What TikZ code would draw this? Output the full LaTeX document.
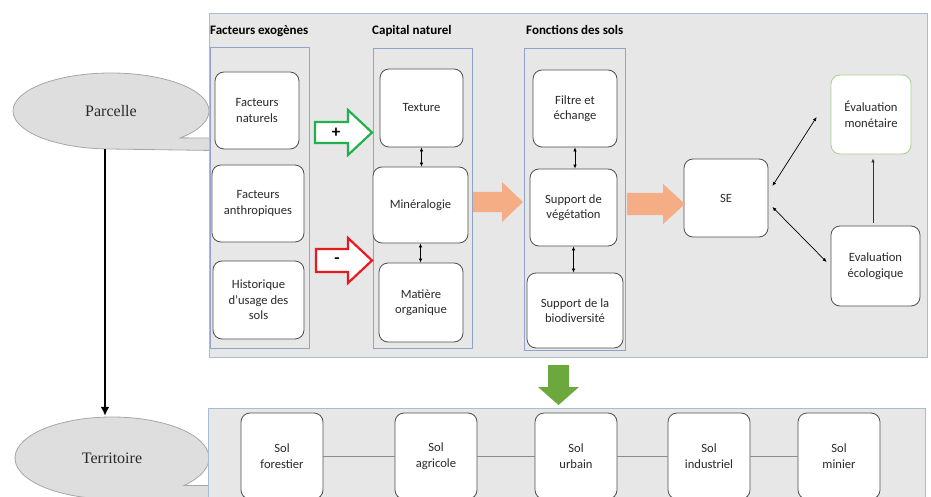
\documentclass[tikz,border=0pt]{standalone}
\usepackage{fontspec}
\setmainfont{Carlito}
\newfontfamily\serifft{Liberation Serif}
\usetikzlibrary{arrows.meta,shapes.geometric}
\definecolor{panelfill}{HTML}{E7E7E7}
\definecolor{panelline}{HTML}{A9BCD2}
\definecolor{colline}{HTML}{8EA5C8}
\definecolor{boxline}{HTML}{4F4F4F}
\definecolor{txt}{HTML}{2A2A2A}
\definecolor{ellfill}{HTML}{DEDEDE}
\definecolor{ellline}{HTML}{A6A6A6}
\definecolor{orangearr}{HTML}{F4AD85}
\definecolor{greenarr}{HTML}{22B04B}
\definecolor{redarr}{HTML}{E8191F}
\definecolor{greendown}{HTML}{6CA83E}
\definecolor{greenline}{HTML}{A9D08E}
\definecolor{rowline}{HTML}{8C8C8C}
\begin{document}
\begin{tikzpicture}[x=1pt,y=-1pt,
  panel/.style={draw=panelline, fill=panelfill, line width=0.9pt, inner sep=0pt},
  colbox/.style={draw=colline, fill=panelfill, line width=0.9pt, inner sep=0pt},
  box/.style={draw=boxline, fill=white, rounded corners=9pt, line width=0.8pt, align=center, text=txt, font=\fontsize{12.6}{15.5}\selectfont, inner sep=2pt},
  hdr/.style={anchor=west, font=\bfseries\fontsize{13}{15}\selectfont, text=black, inner sep=0pt},
  dbl/.style={{Latex[length=4pt,width=3.5pt]}-{Latex[length=4pt,width=3.5pt]}, line width=0.7pt, draw=black},
  sgl/.style={-{Latex[length=4pt,width=3.5pt]}, line width=0.7pt, draw=black!80},
  calloutfill/.style={fill=ellfill, draw=ellline, line width=0.8pt},
  elltext/.style={ellipse, inner sep=0pt, text=txt, font=\serifft\fontsize{16}{18}\selectfont},
  rowconn/.style={draw=rowline, line width=1pt},
  sign/.style={font=\bfseries\fontsize{17}{17}\selectfont, inner sep=0pt, text=black}
]
\useasboundingbox (0,0) rectangle (931,497);
\clip (0,0) rectangle (931,497);

% callouts
\coordinate (pc) at (111,111);
\filldraw[calloutfill] (pc) ++(45:98 and 38) arc[start angle=45, end angle=-268, x radius=98, y radius=38] -- (214,150.5) -- (214,138) -- cycle;
\node[elltext, minimum width=196pt, minimum height=76pt] (parcelle) at (pc) {Parcelle};

\coordinate (tc) at (112,458);
\filldraw[calloutfill] (tc) ++(42:97 and 41) arc[start angle=42, end angle=-268, x radius=97, y radius=41] -- (214,499) -- (214,485.4) -- cycle;
\node[elltext, minimum width=194pt, minimum height=82pt] (territoire) at (tc) {Territoire};

\draw[line width=2.4pt, -{Latex[length=9pt,width=9pt]}] ([xshift=-6pt]parcelle.south) -- ([xshift=-7pt,yshift=1pt]territoire.north);

% panels
\node[panel, minimum width=718pt, minimum height=344pt] (toppanel) at (568,185) {};
\node[panel, minimum width=717pt, minimum height=102pt] (botpanel) at (566.5,459) {};

% columns
\node[colbox, minimum width=99pt, minimum height=301pt] (colA) at (259.5,197.5) {};
\node[colbox, minimum width=99pt, minimum height=300pt] (colB) at (422.5,198) {};
\node[colbox, minimum width=101pt, minimum height=302pt] (colC) at (574.5,199) {};

\node[hdr] (hA) at (210,31) {Facteurs exogènes};
\node[hdr] (hB) at (372,31) {Capital naturel};
\node[hdr] (hC) at (526,30) {Fonctions des sols};

% column 1
\node[box, minimum width=84pt, minimum height=77pt] (fn) at (257,110.5) {Facteurs\\naturels};
\node[box, minimum width=92pt, minimum height=77pt] (fa) at (258,203.5) {Facteurs\\anthropiques};
\node[box, minimum width=91pt, minimum height=78pt] (hu) at (258.5,300) {Historique\\d’usage des\\sols};

% column 2
\node[box, minimum width=83pt, minimum height=78pt] (tex) at (421.5,108) {Texture};
\node[box, minimum width=95pt, minimum height=76pt] (min) at (420.5,205) {Minéralogie};
\node[box, minimum width=84pt, minimum height=79pt] (mo) at (421,302.5) {Matière\\organique};
\draw[dbl] (tex.south) -- (tex.south |- min.north);
\draw[dbl] (min.south) -- (min.south |- mo.north);

% column 3
\node[box, minimum width=84pt, minimum height=77pt] (fe) at (575,108.5) {Filtre et\\échange};
\node[box, minimum width=87pt, minimum height=77pt] (sv) at (573.5,207.5) {Support de\\végétation};
\node[box, minimum width=96pt, minimum height=75pt] (sb) at (575,310.5) {Support de la\\biodiversité};
\draw[dbl] (fe.south) -- (fe.south |- sv.north);
\draw[dbl] (sv.south) -- (sv.south |- sb.north);

% right part
\node[box, minimum width=84pt, minimum height=78pt] (se) at (726,198) {SE};
\node[box, draw=greenline, minimum width=80pt, minimum height=79pt] (em) at (871,114.5) {Évaluation\\monétaire};
\node[box, minimum width=89pt, minimum height=80pt] (ee) at (875.5,266) {Evaluation\\écologique};
\draw[dbl] ([xshift=4pt,yshift=12pt]se.east) -- ([xshift=-14pt,yshift=-2.5pt]em.west);
\draw[dbl] ([xshift=4pt,yshift=-9pt]se.east) -- ([xshift=-4pt,yshift=4pt]ee.west);
\draw[sgl] ([xshift=-2.5pt,yshift=3pt]ee.north) -- ([xshift=2pt,yshift=-4pt]em.south);

% hollow arrows
\draw[draw=greenarr, fill=white, line width=2.2pt, line join=miter] (315,122) -- (348,122) -- (348,110) -- (372,132.5) -- (348,155) -- (348,143) -- (315,143) -- cycle;
\node[sign] (plus) at (336,133) {+};
\draw[draw=redarr, fill=white, line width=2.2pt, line join=miter] (316,249) -- (348,249) -- (348,238) -- (372,260.5) -- (348,283) -- (348,272) -- (316,272) -- cycle;
\node[sign] (minus) at (337,261) {-};

% orange arrows
\fill[orangearr] (473,192) -- (502,192) -- (502,182) -- (523,202) -- (502,222) -- (502,212) -- (473,212) -- cycle;
\fill[orangearr] (627,193) -- (663,193) -- (663,184) -- (685,204) -- (663,224) -- (663,215) -- (627,215) -- cycle;

% green down arrow
\fill[greendown] (548,365) -- (569,365) -- (569,387) -- (579,387) -- (558.5,405) -- (538,387) -- (548,387) -- cycle;

% bottom row
\node[box, minimum width=82pt, minimum height=86pt] (sf) at (282,456) {Sol\\forestier};
\node[box, minimum width=82pt, minimum height=86pt] (sa) at (436,456) {Sol\\agricole};
\node[box, minimum width=82pt, minimum height=86pt] (su) at (576,456) {Sol\\urbain};
\node[box, minimum width=82pt, minimum height=86pt] (si) at (709,456) {Sol\\industriel};
\node[box, minimum width=82pt, minimum height=86pt] (sm) at (839,456) {Sol\\minier};
\draw[rowconn] (sf) -- (sa);
\draw[rowconn] (sa) -- (su);
\draw[rowconn] (su) -- (si);
\draw[rowconn] (si) -- (sm);
\end{tikzpicture}
\end{document}
